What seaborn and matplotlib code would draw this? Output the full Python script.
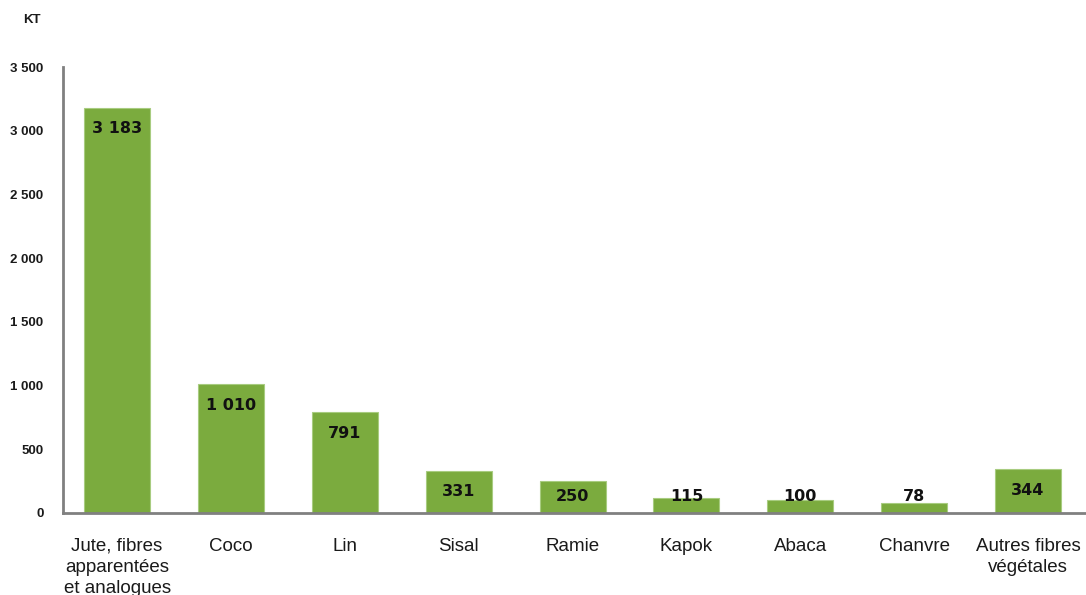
import matplotlib
matplotlib.use("Agg")
import matplotlib.pyplot as plt
import numpy as np
import pandas as pd
import seaborn as sns

categories = [
    "Jute, fibres\napparentées\net analogues",
    "Coco",
    "Lin",
    "Sisal",
    "Ramie",
    "Kapok",
    "Abaca",
    "Chanvre",
    "Autres fibres\nvégétales",
]
values = [3183, 1010, 791, 331, 250, 115, 100, 78, 344]
y_ticks = [0, 500, 1000, 1500, 2000, 2500, 3000, 3500]
y_tick_labels = ["0", "500", "1 000", "1 500", "2 000", "2 500", "3 000", "3 500"]

df = pd.DataFrame({"fibre": categories, "kt": values})

sns.set_style("white")
plt.rcParams["font.family"] = ["Liberation Sans", "DejaVu Sans"]

fig = plt.figure(figsize=(10.86, 5.95), dpi=100)
ax = fig.add_axes([0.058, 0.138, 0.941, 0.749])

green = "#7bab3e"
sns.barplot(data=df, x="fibre", y="kt", color=green, width=0.58,
            saturation=1, edgecolor="#a8cc80", linewidth=0.8, ax=ax)

ax.set_xlim(-0.475, 8.5)
ax.set_ylim(0, 3500)
ax.set_yticks(y_ticks)
ax.set_yticklabels(y_tick_labels, fontsize=9.5, fontweight="bold", color="#1a1a1a")
ax.tick_params(axis="y", length=0, pad=14)
ax.tick_params(axis="x", length=0, pad=18, labelsize=13.5, colors="#1a1a1a")
for lab in ax.get_xticklabels():
    lab.set_linespacing(1.3)
ax.set_xlabel("")
ax.set_ylabel("")

for s in ["top", "right"]:
    ax.spines[s].set_visible(False)
for s in ["left", "bottom"]:
    ax.spines[s].set_color("#808080")
    ax.spines[s].set_linewidth(2)

# value labels inside the top of each bar
for i, v in enumerate(values):
    ypos = max(v - 165, 125)
    txt = " ".join(f"{v:,}".split(","))
    ax.text(i, ypos, txt, ha="center", va="center", fontsize=11.5,
            fontweight="bold", color="#111111", family=["DejaVu Sans"])

fig.text(0.029, 0.966, "KT", fontsize=9.5, fontweight="bold", color="#1a1a1a",
         ha="center", va="center")

fig.savefig("out.png", dpi=100)
